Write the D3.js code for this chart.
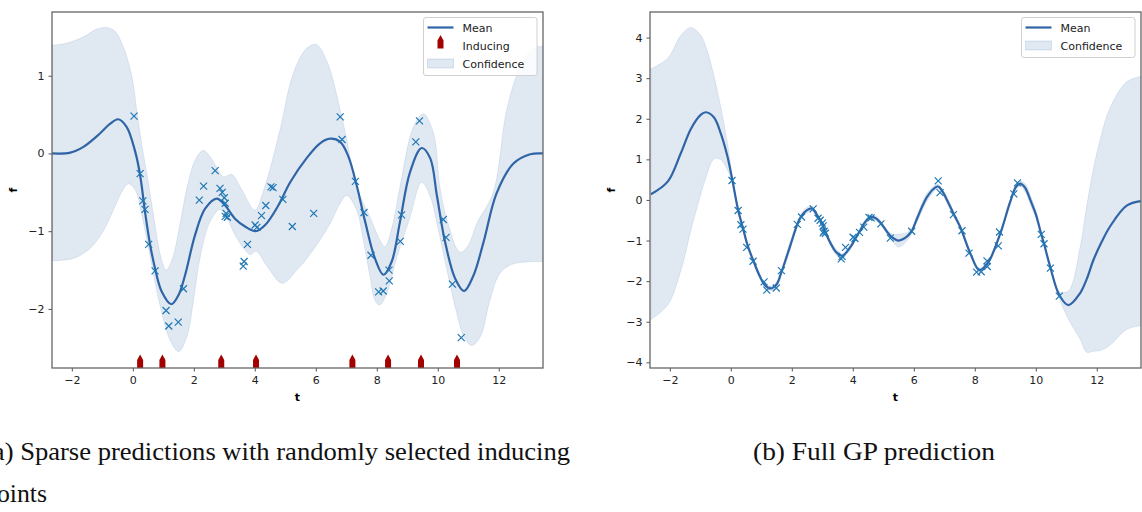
<!DOCTYPE html>
<html>
<head>
<meta charset="utf-8">
<script src="https://cdn.jsdelivr.net/npm/d3@7"></script>
<style>
  body { margin: 0; background: #fff; }
  svg text { font-family: "DejaVu Sans", sans-serif; }
  svg text.caption { font-family: "Liberation Serif", "Times New Roman", serif; }
</style>
</head>
<body>
<svg id="fig" width="1142" height="512"></svg>
<script>
// observed training points (same in both panels)
const obsT = [0.04, 0.24, 0.33, 0.40, 0.52, 0.73, 1.09, 1.18, 1.49, 1.66,
  2.18, 2.32, 2.70, 2.86, 2.93, 3.00, 3.03, 3.06, 3.10, 3.03,
  3.62, 3.65, 3.76, 4.01, 4.07, 4.22, 4.36, 4.53, 4.60, 4.92,
  5.23, 5.93, 6.80, 6.86, 7.30, 7.58, 7.81, 8.06, 8.21, 8.40,
  8.41, 8.77, 8.81, 9.28, 9.40, 10.18, 10.27, 10.48, 10.77];
const obsF = [0.48, -0.26, -0.61, -0.72, -1.17, -1.51, -2.02, -2.22, -2.17, -1.74,
  -0.60, -0.42, -0.22, -0.45, -0.50, -0.57, -0.64, -0.77, -0.82, -0.81,
  -1.45, -1.39, -1.17, -0.92, -0.95, -0.80, -0.67, -0.43, -0.44, -0.59,
  -0.94, -0.77, 0.47, 0.18, -0.36, -0.76, -1.31, -1.78, -1.77, -1.50,
  -1.64, -1.13, -0.79, 0.15, 0.42, -0.85, -1.08, -1.68, -2.37];

// randomly selected inducing inputs (panel a)
const inducingT = [0.24, 0.97, 2.90, 4.04, 7.20, 8.37, 9.45, 10.63];

// panel a: sparse prediction, [t, f]
const sparseMean = [[-2.65, 0.00], [-2.05, 0.01], [-1.62, 0.085], [-1.07, 0.26], [-0.75, 0.38],
  [-0.48, 0.44], [-0.20, 0.34], [0.08, 0.02], [0.24, -0.28], [0.40, -0.75], [0.57, -1.18],
  [0.73, -1.48], [0.95, -1.78], [1.26, -1.94], [1.50, -1.82], [1.71, -1.57], [2.04, -1.05],
  [2.37, -0.71], [2.75, -0.58], [3.03, -0.67], [3.35, -0.84], [3.68, -0.94], [4.03, -1.00],
  [4.34, -0.92], [4.77, -0.67], [5.16, -0.37], [5.70, -0.06], [6.14, 0.13], [6.47, 0.19],
  [6.80, 0.15], [7.07, -0.04], [7.34, -0.41], [7.62, -0.88], [7.94, -1.35], [8.22, -1.56],
  [8.49, -1.39], [8.76, -0.88], [9.09, -0.24], [9.47, 0.07], [9.75, -0.06], [9.97, -0.54],
  [10.24, -1.14], [10.57, -1.61], [10.86, -1.77], [11.17, -1.57], [11.50, -1.14],
  [11.93, -0.51], [12.48, -0.13], [13.03, -0.01], [13.45, 0.00]];
const sparseUpper = [[-2.65, 1.39], [-2.16, 1.42], [-1.62, 1.50], [-1.18, 1.60], [-0.85, 1.62],
  [-0.58, 1.57], [-0.31, 1.37], [-0.03, 0.99], [0.13, 0.55], [0.30, 0.10], [0.50, -0.35],
  [0.70, -0.85], [0.90, -1.30], [1.09, -1.50], [1.30, -1.35], [1.55, -0.90], [1.80, -0.40],
  [2.05, -0.08], [2.31, 0.04], [2.60, -0.08], [2.97, -0.30], [3.25, -0.27], [3.55, -0.45],
  [4.01, -0.73], [4.25, -0.52], [4.56, -0.11], [4.89, 0.41], [5.16, 0.90], [5.49, 1.24],
  [5.75, 1.37], [6.03, 1.40], [6.40, 1.15], [6.80, 0.56], [7.02, 0.17], [7.34, -0.43],
  [7.78, -0.82], [8.11, -1.12], [8.27, -1.20], [8.50, -0.95], [8.76, -0.43], [9.20, 0.34],
  [9.53, 0.51], [9.86, 0.26], [10.07, -0.43], [10.30, -0.85], [10.73, -1.27], [11.00, -1.18],
  [11.28, -0.90], [11.82, -0.50], [12.26, 0.56], [12.70, 1.11], [13.13, 1.35], [13.46, 1.38]];
const sparseLower = [[-2.65, -1.38], [-1.95, -1.35], [-1.40, -1.22], [-0.96, -0.99], [-0.64, -0.73],
  [-0.31, -0.46], [-0.14, -0.39], [0.08, -0.47], [0.30, -0.80], [0.57, -1.33], [0.90, -1.97],
  [1.22, -2.40], [1.50, -2.55], [1.77, -2.36], [1.99, -1.89], [2.21, -1.33], [2.53, -0.88],
  [2.85, -0.72], [3.05, -0.80], [3.33, -1.03], [3.63, -1.22], [3.85, -1.30], [4.05, -1.26],
  [4.40, -1.45], [4.90, -1.67], [5.38, -1.50], [5.92, -1.24], [6.47, -0.90], [6.80, -0.64],
  [7.02, -0.54], [7.34, -0.73], [7.56, -1.12], [7.78, -1.59], [7.94, -1.89], [8.09, -1.95],
  [8.33, -1.80], [8.66, -1.33], [9.09, -0.82], [9.47, -0.37], [9.75, -0.55], [10.00, -0.95],
  [10.30, -1.50], [10.62, -2.05], [10.85, -2.35], [11.11, -2.47], [11.39, -2.36],
  [11.71, -1.89], [12.04, -1.54], [12.48, -1.42], [13.46, -1.39]];

// panel b: full GP prediction, mean and half-width of the band
const fullT = [-2.62, -2.07, -1.64, -1.31, -0.98, -0.82, -0.55, -0.33, -0.11, 0.05,
  0.24, 0.40, 0.55, 0.74, 0.95, 1.10, 1.30, 1.50, 1.66, 1.96,
  2.18, 2.31, 2.50, 2.66, 2.85, 2.95, 3.05, 3.22, 3.45, 3.65,
  3.93, 4.10, 4.25, 4.40, 4.58, 4.75, 4.91, 5.24, 5.51, 5.78,
  5.93, 6.11, 6.44, 6.71, 6.80, 6.95, 7.10, 7.31, 7.53, 7.85,
  8.15, 8.40, 8.51, 8.84, 9.16, 9.35, 9.49, 9.65, 9.82, 10.00,
  10.18, 10.27, 10.47, 10.77, 11.07, 11.45, 11.67, 11.89, 12.15, 12.43, 12.98, 13.45];
const fullMean = [0.14, 0.45, 1.15, 1.75, 2.10, 2.16, 2.03, 1.64, 1.07, 0.49,
  -0.25, -0.70, -1.12, -1.50, -1.88, -2.08, -2.18, -2.08, -1.78, -1.10,
  -0.60, -0.40, -0.25, -0.21, -0.40, -0.52, -0.70, -0.99, -1.28, -1.38,
  -1.15, -0.93, -0.74, -0.55, -0.42, -0.45, -0.56, -0.89, -1.00, -0.90,
  -0.77, -0.45, 0.08, 0.31, 0.33, 0.20, -0.02, -0.35, -0.68, -1.31,
  -1.73, -1.58, -1.45, -0.82, -0.05, 0.32, 0.40, 0.30, 0.00, -0.35,
  -0.85, -1.08, -1.64, -2.34, -2.59, -2.30, -1.95, -1.48, -1.05, -0.66, -0.14, -0.03];
const fullSpread = [3.09, 3.04, 2.90, 2.50, 1.95, 1.62, 1.02, 0.65, 0.33, 0.07,
  0.05, 0.05, 0.05, 0.05, 0.06, 0.05, 0.05, 0.05, 0.05, 0.10,
  0.05, 0.05, 0.07, 0.06, 0.05, 0.05, 0.05, 0.06, 0.07, 0.05,
  0.06, 0.05, 0.05, 0.05, 0.05, 0.05, 0.05, 0.07, 0.16, 0.10,
  0.06, 0.09, 0.10, 0.06, 0.05, 0.06, 0.08, 0.06, 0.05, 0.05,
  0.05, 0.05, 0.05, 0.05, 0.07, 0.06, 0.06, 0.10, 0.12, 0.09,
  0.05, 0.05, 0.05, 0.08, 0.35, 1.12, 1.80, 2.25, 2.65, 2.92, 3.05, 3.07];

const tDomain = [-2.65, 13.45];
const xTicks = [-2, 0, 2, 4, 6, 8, 10, 12];
const yTicksA = [-2, -1, 0, 1];
const yTicksB = [-4, -3, -2, -1, 0, 1, 2, 3, 4];

const meanColor = '#2f64a6';
const obsColor = '#1f77b4';
const plotTop = 12, plotBottom = 368;

const svg = d3.select('#fig');
const defs = svg.append('defs');

function drawPanel(cfg) {
  const x = d3.scaleLinear().domain(tDomain).range([cfg.left, cfg.right]);
  const y = d3.scaleLinear().domain(cfg.yDomain).range([plotBottom, plotTop]);
  const g = svg.append('g');

  defs.append('clipPath').attr('id', 'clip-' + cfg.name)
    .append('rect')
    .attr('x', cfg.left).attr('y', plotTop)
    .attr('width', cfg.right - cfg.left).attr('height', plotBottom - plotTop);
  const plot = g.append('g').attr('clip-path', `url(#clip-${cfg.name})`);

  const line = d3.line()
    .x(d => x(d[0])).y(d => y(d[1]))
    .curve(d3.curveCatmullRom.alpha(0.5));

  // confidence band
  const up = line(cfg.upper);
  const lo = line(cfg.lower.slice().reverse());
  plot.append('path')
    .attr('d', up + 'L' + lo.slice(1) + 'Z')
    .attr('fill', meanColor).attr('fill-opacity', 0.15)
    .attr('stroke', meanColor).attr('stroke-opacity', 0.15)
    .attr('stroke-width', 0.8);

  // mean
  plot.append('path')
    .attr('d', line(cfg.mean))
    .attr('fill', 'none')
    .attr('stroke', meanColor)
    .attr('stroke-width', 2.2);

  // observations
  plot.selectAll('path.obs')
    .data(d3.zip(obsT, obsF))
    .join('path')
    .attr('class', 'obs')
    .attr('transform', d => `translate(${x(d[0])},${y(d[1])})`)
    .attr('d', 'M-3.5,-3.5L3.5,3.5M-3.5,3.5L3.5,-3.5')
    .attr('stroke', obsColor)
    .attr('stroke-width', 1.2)
    .attr('fill', 'none');

  if (cfg.inducing) {
    plot.selectAll('path.ind')
      .data(cfg.inducing)
      .join('path')
      .attr('class', 'ind')
      .attr('transform', d => `translate(${x(d)},${y(cfg.yDomain[0])})`)
      .attr('d', 'M-3,0L-3,-8L0,-13.5L3,-8L3,0Z')
      .attr('fill', '#a30000');
  }

  // axes
  const xAxis = g.append('g')
    .attr('transform', `translate(0,${plotBottom})`)
    .call(d3.axisBottom(x).tickValues(xTicks).tickSize(3.5).tickPadding(5).tickFormat(d3.format('d')));
  const yAxis = g.append('g')
    .attr('transform', `translate(${cfg.left},0)`)
    .call(d3.axisLeft(y).tickValues(cfg.yTicks).tickSize(3.5).tickPadding(4).tickFormat(d3.format('d')));
  [xAxis, yAxis].forEach(a => {
    a.select('.domain').remove();
    a.selectAll('line').attr('stroke', '#555').attr('stroke-width', 1);
    a.selectAll('text').attr('fill', '#222').style('font-size', '11px')
      .style('font-family', '"DejaVu Sans", sans-serif');
  });

  // spines
  g.append('rect')
    .attr('x', cfg.left).attr('y', plotTop)
    .attr('width', cfg.right - cfg.left).attr('height', plotBottom - plotTop)
    .attr('fill', 'none').attr('stroke', '#666').attr('stroke-width', 1.3);

  // axis labels
  g.append('text')
    .attr('x', (cfg.left + cfg.right) / 2).attr('y', 401)
    .attr('text-anchor', 'middle')
    .style('font-size', '11px').style('font-weight', 'bold')
    .text('t');
  g.append('text')
    .attr('transform', `translate(${cfg.left - 35},${(plotTop + plotBottom) / 2}) rotate(-90)`)
    .attr('text-anchor', 'middle')
    .style('font-size', '11px').style('font-weight', 'bold')
    .text('f');

  // legend
  const lg = g.append('g').attr('transform', `translate(${cfg.legendX},17.5)`);
  const rows = cfg.inducing ? ['Mean', 'Inducing', 'Confidence'] : ['Mean', 'Confidence'];
  lg.append('rect')
    .attr('width', 113.5).attr('height', rows.length * 18 + 4)
    .attr('rx', 2.5)
    .attr('fill', '#fff').attr('fill-opacity', 0.8)
    .attr('stroke', '#d0d0d0').attr('stroke-width', 1);
  rows.forEach((name, i) => {
    const ry = 10 + i * 18;
    if (name === 'Mean') {
      lg.append('line').attr('x1', 4).attr('x2', 30).attr('y1', ry).attr('y2', ry)
        .attr('stroke', meanColor).attr('stroke-width', 2.2);
    } else if (name === 'Inducing') {
      lg.append('path').attr('transform', `translate(17,${ry + 3})`)
        .attr('d', 'M-3,0L-3,-8L0,-13.5L3,-8L3,0Z').attr('fill', '#a30000');
    } else {
      lg.append('rect').attr('x', 4).attr('y', ry - 4.5).attr('width', 26).attr('height', 9)
        .attr('fill', meanColor).attr('fill-opacity', 0.15)
        .attr('stroke', meanColor).attr('stroke-opacity', 0.15);
    }
    lg.append('text').attr('x', 39).attr('y', ry + 4)
      .attr('fill', '#222').style('font-size', '11px').text(name);
  });
}

drawPanel({
  name: 'a', left: 52, right: 543, yDomain: [-2.76, 1.82], yTicks: yTicksA,
  mean: sparseMean, upper: sparseUpper, lower: sparseLower,
  inducing: inducingT, legendX: 423.5
});

drawPanel({
  name: 'b', left: 650, right: 1141, yDomain: [-4.14, 4.63], yTicks: yTicksB,
  mean: fullT.map((t, i) => [t, fullMean[i]]),
  upper: fullT.map((t, i) => [t, fullMean[i] + fullSpread[i]]),
  lower: fullT.map((t, i) => [t, fullMean[i] - fullSpread[i]]),
  inducing: null, legendX: 1021.5
});

// sub-figure captions (the left one runs past the page edge, as in the source figure)
const captions = [
  { text: '(a) Sparse predictions with randomly selected inducing', x: -16, y: 460, len: 586 },
  { text: 'points', x: -16, y: 502, len: 63 },
  { text: '(b) Full GP prediction', x: 753, y: 460, len: 242 }
];
svg.append('g').selectAll('text.caption')
  .data(captions)
  .join('text')
  .attr('class', 'caption')
  .attr('x', d => d.x).attr('y', d => d.y)
  .attr('textLength', d => d.len).attr('lengthAdjust', 'spacingAndGlyphs')
  .attr('fill', '#111')
  .style('font-size', '25px')
  .text(d => d.text);
</script>
</body>
</html>
